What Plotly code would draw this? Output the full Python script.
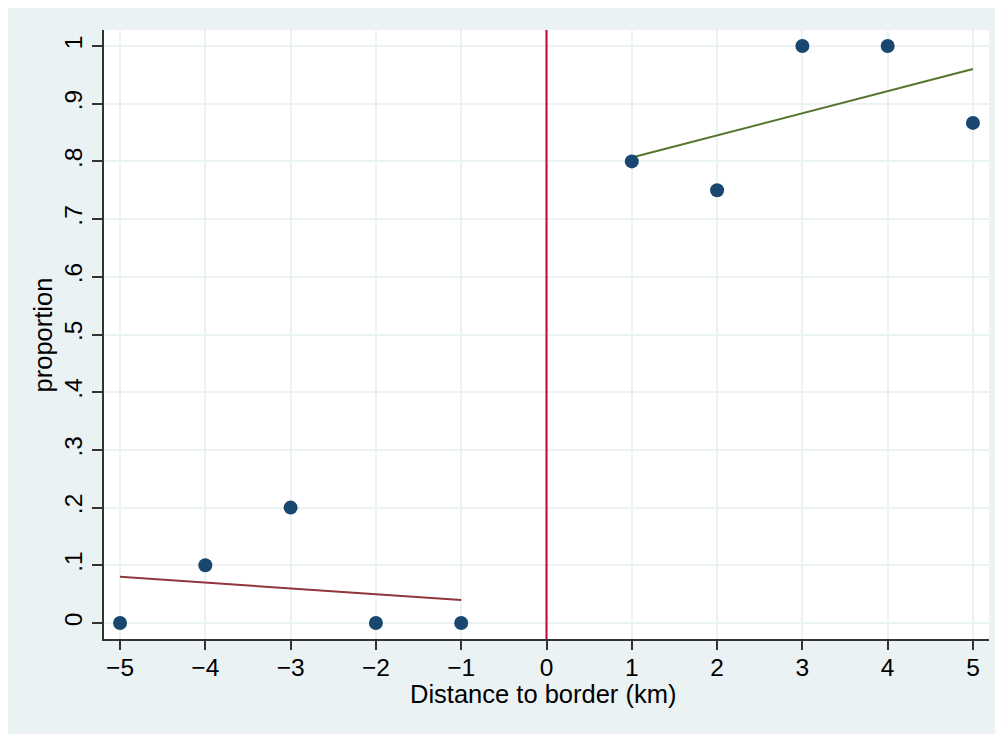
import plotly.graph_objects as go

# Data
dist_left = [-5, -4, -3, -2, -1]
prop_left = [0.0, 0.1, 0.2, 0.0, 0.0]
dist_right = [1, 2, 3, 4, 5]
prop_right = [0.8, 0.75, 1.0, 1.0, 0.8667]

fit_left_x = [-5, -1]
fit_left_y = [0.08, 0.04]
fit_right_x = [1, 5]
fit_right_y = [0.8067, 0.96]

x_ticks = [-5, -4, -3, -2, -1, 0, 1, 2, 3, 4, 5]
x_ticklabels = ["\u22125", "\u22124", "\u22123", "\u22122", "\u22121", "0", "1", "2", "3", "4", "5"]
y_ticks = [0, 0.1, 0.2, 0.3, 0.4, 0.5, 0.6, 0.7, 0.8, 0.9, 1.0]
y_ticklabels = ["0", ".1", ".2", ".3", ".4", ".5", ".6", ".7", ".8", ".9", "1"]
x_title = "Distance to border (km)"
y_title = "proportion"

BG = "#EAF2F3"
MARKER = "#1A476F"
RED = "#C10534"
MAROON = "#90353B"
GREEN = "#55752F"
FONT = "Liberation Sans, Arial, sans-serif"
FS = 24.5

fig = go.Figure()

fig.add_trace(go.Scatter(x=fit_left_x, y=fit_left_y, mode="lines",
                         line=dict(color=MAROON, width=2), showlegend=False))
fig.add_trace(go.Scatter(x=fit_right_x, y=fit_right_y, mode="lines",
                         line=dict(color=GREEN, width=2), showlegend=False))
fig.add_trace(go.Scatter(x=dist_left + dist_right, y=prop_left + prop_right, mode="markers",
                         marker=dict(color=MARKER, size=14), showlegend=False))

fig.add_shape(type="line", xref="x", yref="paper", layer="above",
              x0=0, x1=0, y0=0, y1=1,
              line=dict(color=RED, width=2))

# axis titles as annotations for exact placement
fig.add_annotation(text=x_title, xref="paper", yref="paper", x=0.4955, y=-0.0903,
                   xanchor="center", yanchor="middle", showarrow=False,
                   font=dict(size=FS + 1, family=FONT, color="black"))
fig.add_annotation(text=y_title, xref="paper", yref="paper", x=-0.069, y=0.5,
                   xanchor="center", yanchor="middle", showarrow=False, textangle=-90,
                   font=dict(size=FS + 1, family=FONT, color="black"))

# page offset of 8px (body margin); plot area on page: x 104..989, y 30..639
W, H = 989, 726
fig.update_layout(
    width=W, height=H,
    margin=dict(l=96, r=8, t=22, b=95),
    paper_bgcolor=BG,
    plot_bgcolor="white",
    font=dict(family=FONT, size=FS, color="black"),
    showlegend=False,
)
fig.update_xaxes(
    range=[-5.188, 5.188],
    tickmode="array", tickvals=x_ticks, ticktext=x_ticklabels,
    ticks="outside", ticklen=9, tickwidth=1.5, tickcolor="#333333",
    ticklabelstandoff=-3,
    showline=True, linecolor="#333333", linewidth=1.5,
    showgrid=True, gridcolor=BG, gridwidth=2,
    zeroline=False, automargin=False,
    tickfont=dict(size=FS, family=FONT),
)
fig.update_yaxes(
    range=[-0.0277, 1.0277],
    tickmode="array", tickvals=y_ticks, ticktext=y_ticklabels,
    tickangle=-90,
    ticks="outside", ticklen=10, tickwidth=1.5, tickcolor="#333333",
    showline=True, linecolor="#333333", linewidth=1.5,
    showgrid=True, gridcolor=BG, gridwidth=2,
    zeroline=False, automargin=False,
    tickfont=dict(size=FS, family=FONT),
)

fig.write_html("out.html")
